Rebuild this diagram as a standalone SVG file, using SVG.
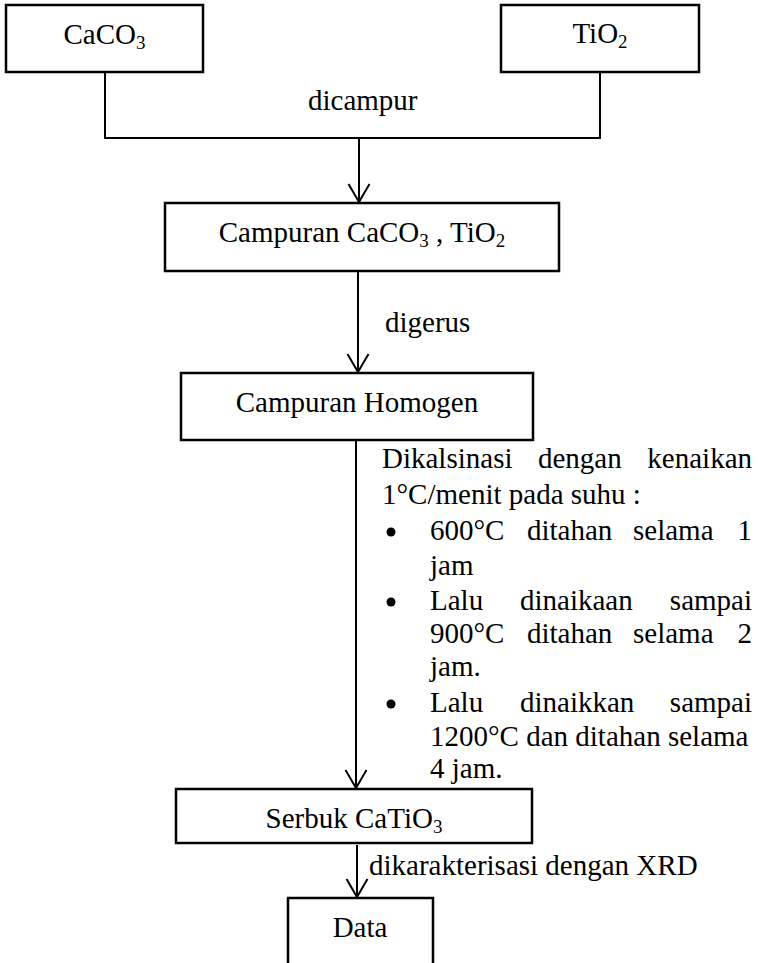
<svg xmlns="http://www.w3.org/2000/svg" width="758" height="963" viewBox="0 0 758 963">
<style>
text{font-family:"Liberation Serif","Times New Roman",serif;font-size:29px;fill:#000}
.c{text-anchor:middle}
.e{text-anchor:end}
.box{fill:#fff;stroke:#000;stroke-width:2.5}
.ln{fill:none;stroke:#000;stroke-width:2}
.bl{fill:#000}
</style>
<defs>
<marker id="ah" markerUnits="userSpaceOnUse" markerWidth="22" markerHeight="24" refX="19" refY="11" orient="auto" viewBox="0 0 22 24" overflow="visible">
<path d="M1,0.5 L19,11 L1,21.5" fill="none" stroke="#000" stroke-width="2"/>
</marker>
</defs>
<rect width="758" height="963" fill="#fff"/>
<g id="connectors">
<path class="ln" d="M105,72 V138 H600 V72"/>
<path class="ln" d="M359,138 V202" marker-end="url(#ah)"/>
<path class="ln" d="M358,271 V372" marker-end="url(#ah)"/>
<path class="ln" d="M356,440 V788" marker-end="url(#ah)"/>
<path class="ln" d="M357,845 V897" marker-end="url(#ah)"/>
</g>
<g id="caco3">
<rect class="box" x="6" y="5" width="197" height="67"/>
<text class="c" x="104.5" y="44">CaCO<tspan font-size="19" dy="5">3</tspan></text>
</g>
<g id="tio2">
<rect class="box" x="501" y="5" width="198" height="67"/>
<text class="c" x="600" y="43">TiO<tspan font-size="19" dy="5">2</tspan></text>
</g>
<g id="label-dicampur"><text x="308" y="110">dicampur</text></g>
<g id="campuran">
<rect class="box" x="165" y="203" width="394" height="68"/>
<text class="c" x="362" y="242">Campuran CaCO<tspan font-size="19" dy="5">3</tspan><tspan dy="-5"> , TiO</tspan><tspan font-size="19" dy="5">2</tspan></text>
</g>
<g id="label-digerus"><text x="385" y="332">digerus</text></g>
<g id="homogen">
<rect class="box" x="181" y="373" width="352" height="67"/>
<text class="c" x="357" y="412">Campuran Homogen</text>
</g>
<g id="label-kalsinasi">
<text x="382" y="468">Dikalsinasi</text><text x="538" y="468">dengan</text><text class="e" x="752" y="468">kenaikan</text>
<text x="382" y="504">1°C/menit pada suhu :</text>
<circle class="bl" cx="391" cy="532" r="4.5"/>
<text x="430" y="540">600°C</text><text x="527" y="540">ditahan</text><text x="633" y="540">selama</text><text class="e" x="752" y="540">1</text>
<text x="430" y="575">jam</text>
<circle class="bl" cx="391" cy="602" r="4.5"/>
<text x="430" y="610">Lalu</text><text x="520" y="610">dinaikaan</text><text class="e" x="752" y="610">sampai</text>
<text x="430" y="643">900°C</text><text x="527" y="643">ditahan</text><text x="633" y="643">selama</text><text class="e" x="752" y="643">2</text>
<text x="430" y="676">jam.</text>
<circle class="bl" cx="391" cy="704" r="4.5"/>
<text x="430" y="712">Lalu</text><text x="520" y="712">dinaikkan</text><text class="e" x="752" y="712">sampai</text>
<text x="430" y="746">1200°C dan ditahan selama</text>
<text x="430" y="778">4 jam.</text>
</g>
<g id="serbuk">
<rect class="box" x="176" y="789" width="356" height="54"/>
<text class="c" x="354" y="828">Serbuk CaTiO<tspan font-size="19" dy="5">3</tspan></text>
</g>
<g id="label-xrd"><text x="369" y="875">dikarakterisasi dengan XRD</text></g>
<g id="data">
<path class="box" d="M288,963 V898 H433 V963"/>
<text class="c" x="360" y="937">Data</text>
</g>
</svg>
